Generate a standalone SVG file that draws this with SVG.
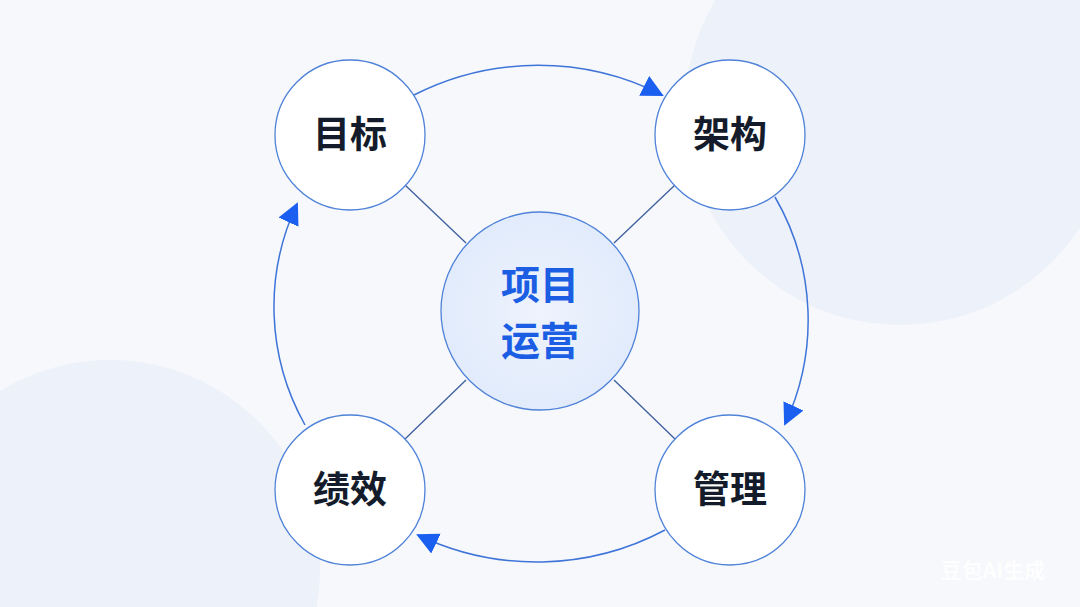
<svg xmlns="http://www.w3.org/2000/svg" width="1080" height="607" viewBox="0 0 1080 607">
<style>
.n{fill:#fff;stroke:#4f82d8;stroke-width:1.3}
.t{font-family:"Noto Sans CJK SC","Noto Sans",sans-serif;font-weight:700;font-size:37px;fill:#141c2b;text-anchor:middle}
.c{font-family:"Noto Sans CJK SC","Noto Sans",sans-serif;font-weight:700;font-size:39px;fill:#1b5ee3;text-anchor:middle}
.l{stroke:#3d5e9e;stroke-width:1.3;fill:none}
.a{stroke:#3f74d8;stroke-width:1.5;fill:none;marker-end:url(#ah)}
</style>
<defs>
<marker id="ah" markerUnits="userSpaceOnUse" markerWidth="26" markerHeight="26" viewBox="0 0 26 26" refX="20" refY="13" orient="auto">
<path d="M0,2 L22,13 L0,24 Z" fill="#1a5ff0"/>
</marker>
<radialGradient id="cg" cx="0.5" cy="0.5" r="0.5">
<stop offset="0" stop-color="#eef3fd"/><stop offset="1" stop-color="#e1ebfb"/>
</radialGradient>
</defs>
<rect width="1080" height="607" fill="#f6f8fc"/>
<circle cx="900" cy="110" r="215" fill="#edf1f9"/>
<circle cx="110" cy="570" r="210" fill="#edf1f9"/>
<g id="connectors">
<line class="l" x1="405" y1="185" x2="466" y2="243"/>
<line class="l" x1="675" y1="185" x2="614" y2="243"/>
<line class="l" x1="405" y1="439" x2="466" y2="380"/>
<line class="l" x1="675" y1="439" x2="614" y2="380"/>
<path class="a" d="M414,95 A263,251 0 0 1 662,95"/>
<path class="a" d="M775,197 A258,251 0 0 1 785,424"/>
<path class="a" d="M665,530 A263,251 0 0 1 418,535"/>
<path class="a" d="M305,425 A263,251 0 0 1 297,204"/>
</g>
<g id="center"><circle cx="540" cy="311" r="99" fill="url(#cg)" stroke="#4f82d8" stroke-width="1.3"/>
<text class="c" x="540" y="299">项目</text><text class="c" x="540" y="355">运营</text></g>
<g id="n1"><circle class="n" cx="350" cy="135" r="75"/><text class="t" x="350" y="148">目标</text></g>
<g id="n2"><circle class="n" cx="730" cy="135" r="75"/><text class="t" x="730" y="148">架构</text></g>
<g id="n3"><circle class="n" cx="730" cy="490" r="75"/><text class="t" x="730" y="503">管理</text></g>
<g id="n4"><circle class="n" cx="350" cy="490" r="75"/><text class="t" x="350" y="503">绩效</text></g>
<text x="993" y="578" font-family="'Noto Sans CJK SC',sans-serif" font-weight="700" font-size="21" fill="#ffffff" text-anchor="middle" opacity="0.9">豆包AI生成</text>
</svg>
